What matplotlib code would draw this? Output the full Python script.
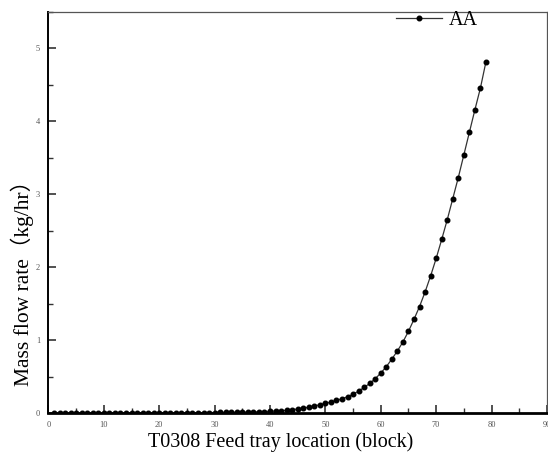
import matplotlib
matplotlib.use("Agg")
import matplotlib.pyplot as plt
from matplotlib.ticker import MultipleLocator

trays = list(range(1, 80))
aa_flow = [
    0.000, 0.000, 0.000, 0.000, 0.000, 0.000, 0.001, 0.001, 0.001, 0.001,   # 1-10
    0.001, 0.001, 0.001, 0.001, 0.002, 0.002, 0.002, 0.002, 0.002, 0.003,   # 11-20
    0.003, 0.003, 0.003, 0.004, 0.004, 0.004, 0.005, 0.005, 0.006, 0.006,   # 21-30
    0.007, 0.008, 0.009, 0.010, 0.011, 0.012, 0.014, 0.016, 0.019, 0.022,   # 31-40
    0.026, 0.031, 0.037, 0.045, 0.055, 0.066, 0.080, 0.096, 0.113, 0.131,   # 41-50
    0.150, 0.172, 0.196, 0.222, 0.258, 0.300, 0.350, 0.405, 0.470, 0.548,   # 51-60
    0.635, 0.740, 0.850, 0.975, 1.120, 1.285, 1.460, 1.660, 1.880, 2.120,   # 61-70
    2.380, 2.650, 2.940, 3.230, 3.540, 3.850, 4.160, 4.460, 4.820,          # 71-79
]

plt.rcParams['font.family'] = ['Liberation Serif', 'Noto Sans CJK SC']

fig = plt.figure(figsize=(5.48, 4.63), dpi=100)
ax = fig.add_axes([0.0885, 0.108, 0.9095, 0.866])

ax.plot(trays, aa_flow, color='#333333', linewidth=0.9, marker='o',
        markersize=3.3, markerfacecolor='black', markeredgecolor='black',
        label='AA')

ax.set_xlim(0, 90)
ax.set_ylim(0, 5.5)
ax.xaxis.set_major_locator(MultipleLocator(10))
ax.xaxis.set_minor_locator(MultipleLocator(5))
ax.yaxis.set_major_locator(MultipleLocator(1))
ax.yaxis.set_minor_locator(MultipleLocator(0.5))
ax.tick_params(which='major', direction='in', length=6, width=1.2,
               labelsize=6, colors='#333333', labelcolor='#555555', pad=6)
ax.tick_params(which='minor', direction='in', length=3.5, width=1.0,
               colors='#333333')
ax.tick_params(axis='both', top=False, right=False)

ax.spines['bottom'].set_linewidth(2.0)
ax.spines['left'].set_linewidth(1.4)
ax.spines['top'].set_linewidth(0.9)
ax.spines['right'].set_linewidth(0.9)
ax.spines['top'].set_color('#555555')
ax.spines['right'].set_color('#555555')

ax.set_xlabel('T0308 Feed tray location (block)', fontsize=14.5)
ax.set_ylabel('Mass flow rate（kg/hr）', fontsize=15.5)
ax.xaxis.set_label_coords(0.466, -0.049)
ax.yaxis.set_label_coords(-0.029, 0.337)

ax.legend(loc='upper right', frameon=False, fontsize=14.5,
          bbox_to_anchor=(0.862, 1.002), borderaxespad=0, borderpad=0,
          handlelength=2.3, handletextpad=0.35)

fig.savefig('out.png', dpi=100)
